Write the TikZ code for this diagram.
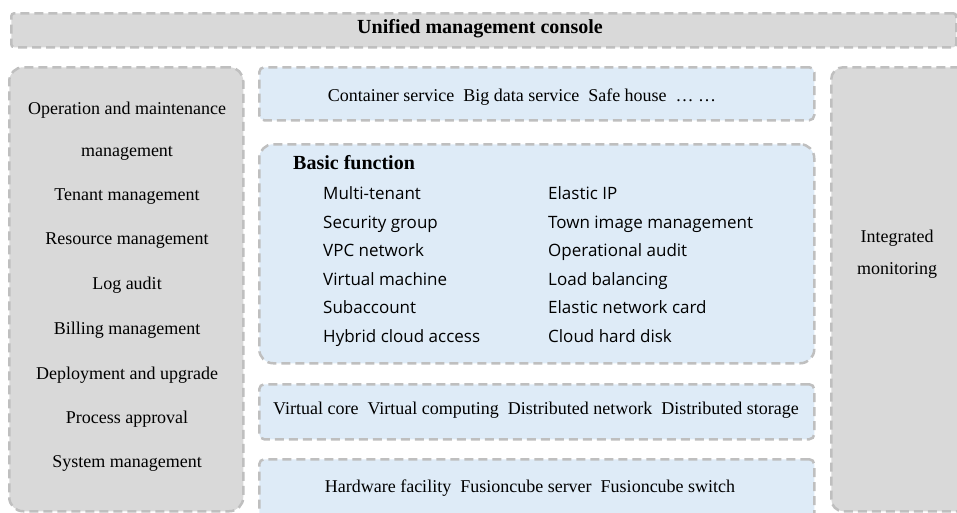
\documentclass[tikz,border=0pt]{standalone}
\usepackage{fontspec}
\setmainfont{Liberation Serif}
\newfontfamily\listfont{Open Sans}
\usetikzlibrary{positioning}
\definecolor{paleblue}{HTML}{DEEBF7}

\begin{document}
\begin{tikzpicture}[x=1pt, y=-1pt,
		box/.style={draw=black!25, line width=2.5pt, dash pattern=on 9pt off 5pt, anchor=north west, inner sep=0pt},
		greybox/.style={box, fill=black!15},
		bluebox/.style={box, fill=paleblue},
		txt/.style={font=\fontsize{18}{20}\selectfont, inner sep=0pt},
		head/.style={font=\bfseries\fontsize{20}{22}\selectfont, inner sep=0pt},
		item/.style={font=\listfont\fontsize{17}{19}\selectfont, anchor=base west, inner sep=0pt}]
		\useasboundingbox (0,0) rectangle (957,512);
		\clip (0,0) rectangle (957,512);
		% boxes
		\node (console) at (10,12) [greybox, rounded corners=3pt, minimum width=945pt, minimum height=34pt] {};
		\node (ops) at (8,66) [greybox, rounded corners=14pt, minimum width=234pt, minimum height=444pt] {};
		\node (services) at (258,66) [bluebox, rounded corners=5pt, minimum width=555pt, minimum height=53pt] {};
		\node (basic) at (258,143) [bluebox, rounded corners=14pt, minimum width=555pt, minimum height=219pt] {};
		\node (virtual) at (258,383) [bluebox, rounded corners=5pt, minimum width=555pt, minimum height=55pt] {};
		\node (hardware) at (258,458) [bluebox, rounded corners=5pt, minimum width=555pt, minimum height=62pt] {};
		\node (monitor) at (830,66) [greybox, rounded corners=12pt, minimum width=140pt, minimum height=444pt] {};
		% top bar
		\node (consoletxt) at (480,29) [head] {Unified management console};
		% left column
		\node (om1) at (127,110) [txt] {Operation and maintenance};
		\node (om2) at (127,153) [txt] {management};
		\node (tenant) at (127,197) [txt] {Tenant management};
		\node (resource) at (127,241) [txt] {Resource management};
		\node (log) at (127,285) [txt] {Log audit};
		\node (billing) at (127,330) [txt] {Billing management};
		\node (deploy) at (127,375) [txt] {Deployment and upgrade};
		\node (approval) at (127,419) [txt] {Process approval};
		\node (system) at (127,463) [txt] {System management};
		% service layers
		\node (servicestxt) at (522,97) [txt] {Container service\enspace Big data service\enspace Safe house\enspace \dots\ \dots};
		\node (virtualtxt) at (536,410) [txt] {Virtual core\enspace Virtual computing\enspace Distributed network\enspace Distributed storage};
		\node (hardwaretxt) at (530,488) [txt] {Hardware facility\enspace Fusioncube server\enspace Fusioncube switch};
		% basic function
		\node (basictxt) at (293,163) [head, anchor=west] {Basic function};
		\node (multi) at (323,199) [item] {Multi-tenant};
		\node (security) at (323,228) [item] {Security group};
		\node (vpc) at (323,256) [item] {VPC network};
		\node (vm) at (323,285) [item] {Virtual machine};
		\node (subacc) at (323,313) [item] {Subaccount};
		\node (hybrid) at (323,342) [item] {Hybrid cloud access};
		\node (eip) at (548,199) [item] {Elastic IP};
		\node (image) at (548,228) [item] {Town image management};
		\node (audit) at (548,256) [item] {Operational audit};
		\node (balance) at (548,285) [item] {Load balancing};
		\node (nic) at (548,313) [item] {Elastic network card};
		\node (disk) at (548,342) [item] {Cloud hard disk};
		% right column
		\node (monitortxt) at (897,254) [txt, align=center, font=\fontsize{18}{32}\selectfont] {Integrated\\monitoring};
\end{tikzpicture}
\end{document}
